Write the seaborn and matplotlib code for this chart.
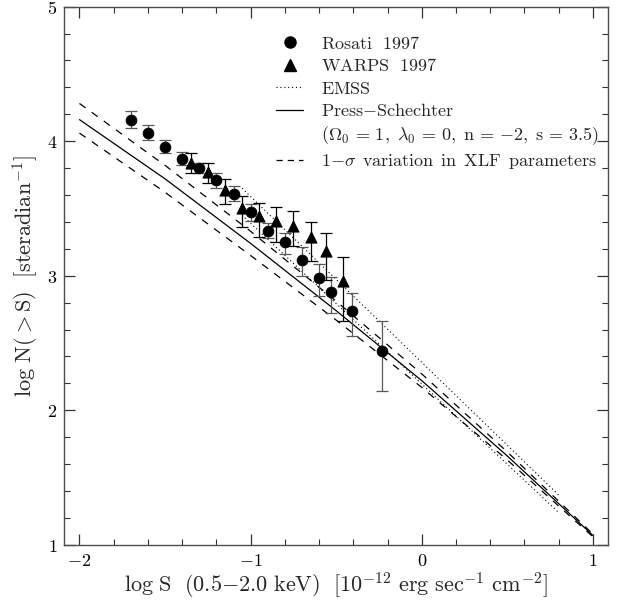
import matplotlib
matplotlib.use("Agg")
import matplotlib.pyplot as plt
import seaborn as sns
from matplotlib.lines import Line2D
from matplotlib.ticker import MultipleLocator, FuncFormatter

# Rosati 1997 points (log S, log N) with lower / upper errors
rosati_x = [-1.70, -1.60, -1.50, -1.40, -1.30, -1.20, -1.10, -1.00, -0.90,
            -0.80, -0.70, -0.60, -0.53, -0.41, -0.23]
rosati_y = [4.16, 4.06, 3.96, 3.87, 3.80, 3.71, 3.61, 3.47, 3.33,
            3.25, 3.12, 2.98, 2.88, 2.74, 2.44]
rosati_lo = [0.065, 0.05, 0.047, 0.05, 0.04, 0.057, 0.057, 0.06, 0.05,
             0.087, 0.12, 0.13, 0.16, 0.19, 0.30]
rosati_hi = [0.065, 0.06, 0.05, 0.05, 0.04, 0.05, 0.06, 0.06, 0.06,
             0.07, 0.09, 0.11, 0.11, 0.13, 0.22]

# WARPS 1997 points
warps_x = [-1.35, -1.25, -1.15, -1.05, -0.95, -0.85, -0.75, -0.65, -0.56, -0.46]
warps_y = [3.84, 3.77, 3.64, 3.50, 3.44, 3.41, 3.37, 3.29, 3.18, 2.96]
warps_lo = [0.075, 0.08, 0.11, 0.135, 0.15, 0.16, 0.15, 0.18, 0.21, 0.30]
warps_hi = [0.075, 0.07, 0.08, 0.09, 0.10, 0.10, 0.11, 0.11, 0.14, 0.18]

# Press-Schechter prediction and 1-sigma XLF variation
ps_x = [-2.0, -1.5, -1.0, -0.5, 0.0, 0.5, 1.0]
ps_y = [4.16, 3.72, 3.24, 2.74, 2.22, 1.66, 1.07]
ps_hi = [4.28, 3.82, 3.33, 2.81, 2.27, 1.69, 1.08]
ps_lo = [4.06, 3.62, 3.15, 2.67, 2.17, 1.63, 1.06]

# EMSS range
emss_x = [-1.05, 0.80]
emss_hi = [3.65, 1.37]
emss_lo = [3.45, 1.24]

legend_labels = [
    r"$\mathrm{Rosati\ \ 1997}$",
    r"$\mathrm{WARPS\ \ 1997}$",
    r"$\mathrm{EMSS}$",
    r"$\mathrm{Press{-}Schechter}$",
    r"$(\Omega_0\,=\,1,\ \lambda_0\,=\,0,\ \mathrm{n}\,=\,{-}2,\ \mathrm{s}\,=\,3.5)$",
    r"$1{-}\sigma\ \,\mathrm{variation\ \,in\ \,XLF\ \,parameters}$",
]

sns.set_theme(style="ticks")
plt.rcParams.update({
    "mathtext.fontset": "cm",
    "font.family": "serif",
    "font.serif": ["DejaVu Serif"],
    "axes.edgecolor": "0.3",
    "axes.linewidth": 1.0,
    "xtick.direction": "in",
    "ytick.direction": "in",
    "xtick.top": True,
    "ytick.right": True,
    "xtick.color": "0.2",
    "ytick.color": "0.2",
    "xtick.labelcolor": "black",
    "ytick.labelcolor": "black",
})

fig = plt.figure(figsize=(6.22, 6.0), dpi=100)
ax = fig.add_axes([0.103, 0.092, 0.875, 0.897])

# model curves
sns.lineplot(x=ps_x, y=ps_y, color="black", lw=0.9, ax=ax)
sns.lineplot(x=ps_x, y=ps_hi, color="black", lw=0.9, linestyle=(0, (6, 6)), ax=ax)
sns.lineplot(x=ps_x, y=ps_lo, color="black", lw=0.9, linestyle=(0, (6, 6)), ax=ax)
sns.lineplot(x=emss_x, y=emss_hi, color="black", lw=0.8, linestyle=(0, (1, 2.5)), ax=ax)
sns.lineplot(x=emss_x, y=emss_lo, color="black", lw=0.8, linestyle=(0, (1, 2.5)), ax=ax)

# data with error bars
ax.errorbar(rosati_x, rosati_y, yerr=[rosati_lo, rosati_hi], fmt="none",
            ecolor="0.35", elinewidth=0.9, capsize=4, capthick=0.9, zorder=2)
ax.errorbar(warps_x, warps_y, yerr=[warps_lo, warps_hi], fmt="none",
            ecolor="black", elinewidth=0.9, capsize=4, capthick=0.9, zorder=2)
sns.scatterplot(x=rosati_x, y=rosati_y, marker="o", s=60, color="black",
                edgecolor="black", ax=ax, zorder=3, legend=False)
sns.scatterplot(x=warps_x, y=warps_y, marker="^", s=65, color="black",
                edgecolor="black", ax=ax, zorder=3, legend=False)

ax.set_xlim(-2.09, 1.09)
ax.set_ylim(1, 5)
ax.xaxis.set_major_locator(MultipleLocator(1))
ax.xaxis.set_minor_locator(MultipleLocator(0.2))
ax.yaxis.set_major_locator(MultipleLocator(1))
ax.yaxis.set_minor_locator(MultipleLocator(0.2))
fmt = FuncFormatter(lambda v, p: f"${v:g}$")
ax.xaxis.set_major_formatter(fmt)
ax.yaxis.set_major_formatter(fmt)
ax.tick_params(which="major", length=8, width=0.9, labelsize=13, pad=5)
ax.tick_params(which="minor", length=4, width=0.8)

ax.set_xlabel(r"$\mathrm{log\ S\ \ (0.5{-}2.0\ keV)\ \ [10^{-12}\ erg\ sec^{-1}\ cm^{-2}]}$",
              fontsize=16, labelpad=1)
ax.set_ylabel(r"$\mathrm{log\ N({>}S)\ \ [steradian^{-1}]}$", fontsize=16, labelpad=4)

handles = [
    Line2D([], [], color="black", marker="o", ls="none", ms=8),
    Line2D([], [], color="black", marker="^", ls="none", ms=8),
    Line2D([], [], color="black", ls=(0, (1, 2.5)), lw=0.8),
    Line2D([], [], color="black", ls="-", lw=0.9),
    Line2D([], [], ls="none"),
    Line2D([], [], color="black", ls=(0, (5, 4)), lw=0.9),
]
ax.legend(handles, legend_labels, loc="upper left", bbox_to_anchor=(0.39, 0.948),
          frameon=False, fontsize=13, handlelength=1.5, handletextpad=1.0,
          labelspacing=0.25, borderpad=0, borderaxespad=0)

fig.savefig("out.png", dpi=100)
